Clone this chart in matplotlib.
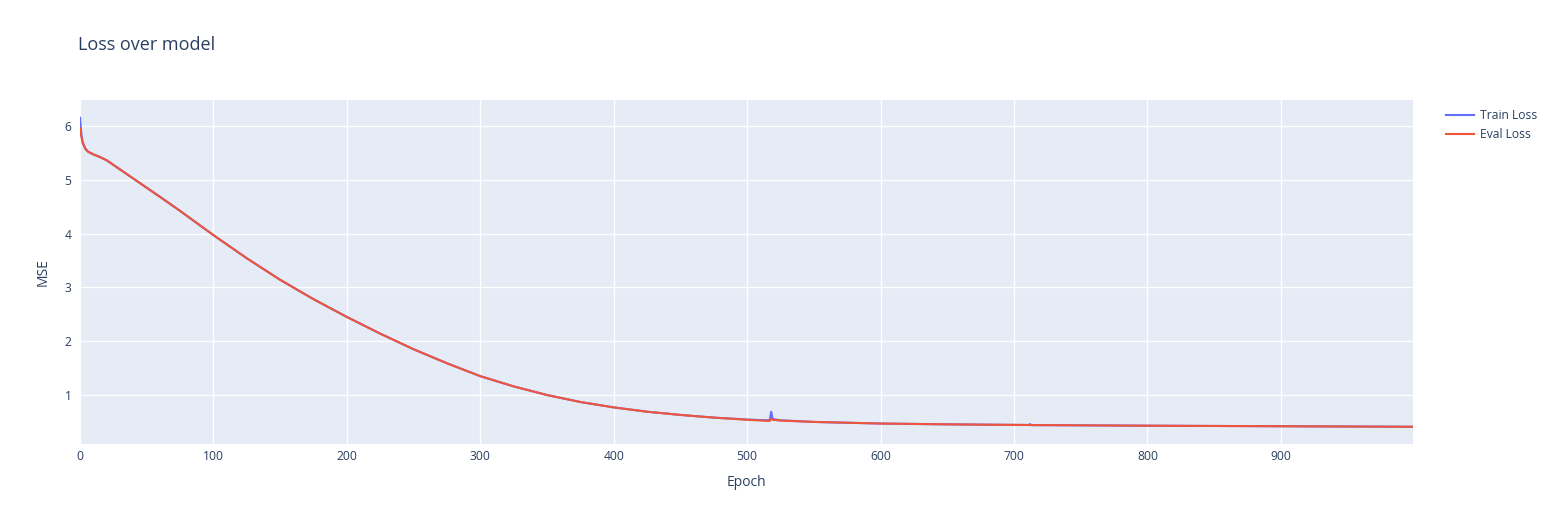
import matplotlib
matplotlib.use("Agg")
import matplotlib.pyplot as plt
from matplotlib.lines import Line2D

plt.rcParams['font.family'] = ['Open Sans', 'DejaVu Sans']

# epochs and loss values
epochs = [0, 1, 2, 4, 6, 10, 15, 20, 30, 40, 50, 60, 75, 100, 125, 150, 175,
          200, 225, 250, 275, 300, 325, 350, 375, 400, 425, 450, 475, 500,
          515, 517, 518, 519, 521, 525, 550, 600, 650, 700, 711, 712, 713,
          750, 800, 850, 900, 950, 999]
train_loss = [6.15, 5.85, 5.70, 5.58, 5.52, 5.47, 5.42, 5.36, 5.19, 5.02,
              4.85, 4.68, 4.42, 3.97, 3.54, 3.14, 2.78, 2.45, 2.14, 1.85,
              1.59, 1.35, 1.16, 1.00, 0.87, 0.77, 0.69, 0.63, 0.58, 0.545,
              0.53, 0.54, 0.69, 0.56, 0.545, 0.53, 0.50, 0.47, 0.455, 0.445,
              0.443, 0.46, 0.44, 0.437, 0.430, 0.425, 0.420, 0.415, 0.410]
eval_loss = [5.95, 5.80, 5.68, 5.57, 5.52, 5.47, 5.42, 5.36, 5.19, 5.02,
             4.85, 4.68, 4.42, 3.97, 3.54, 3.14, 2.78, 2.45, 2.14, 1.85,
             1.59, 1.35, 1.16, 1.00, 0.87, 0.77, 0.69, 0.63, 0.58, 0.54,
             0.52, 0.52, 0.56, 0.54, 0.535, 0.525, 0.50, 0.47, 0.455, 0.445,
             0.443, 0.443, 0.442, 0.437, 0.430, 0.425, 0.420, 0.415, 0.410]

x_ticks = [0, 100, 200, 300, 400, 500, 600, 700, 800, 900]
y_ticks = [1, 2, 3, 4, 5, 6]

text_color = '#2a3f5f'
fig = plt.figure(figsize=(15.57, 5.25), dpi=100)
ax = fig.add_axes([80 / 1557, 81 / 525, 1333 / 1557, 344 / 525])
ax.set_facecolor('#E5ECF6')

ax.plot(epochs, train_loss, color='#636efa', lw=1.5, label='Train Loss')
ax.plot(epochs, eval_loss, color='#EF553B', lw=1.5, label='Eval Loss')

ax.set_xlim(0, 999)
ax.set_ylim(0.09, 6.48)
ax.set_xticks(x_ticks)
ax.set_yticks(y_ticks)
ax.grid(True, color='white', lw=1)
ax.set_axisbelow(True)
for s in ax.spines.values():
    s.set_visible(False)
ax.tick_params(length=0, labelsize=8.7, colors=text_color, pad=4)
ax.tick_params(axis='y', pad=6)
ax.set_xlabel('Epoch', fontsize=10, color=text_color, labelpad=9)
ax.set_ylabel('MSE', fontsize=10, color=text_color, labelpad=10)

fig.text(78 / 1557, 1 - 45 / 525, 'Loss over model', fontsize=13,
         color=text_color, va='center')

handles = [Line2D([], [], color='#636efa', lw=1.5),
           Line2D([], [], color='#EF553B', lw=1.5)]
fig.legend(handles, ['Train Loss', 'Eval Loss'], loc='upper left',
           bbox_to_anchor=(1441 / 1557, 1 - 104 / 525), frameon=False,
           fontsize=8.7, handlelength=2.3, handletextpad=0.5,
           labelspacing=0.55, labelcolor=text_color, borderaxespad=0)

fig.savefig('out.png', dpi=100)
